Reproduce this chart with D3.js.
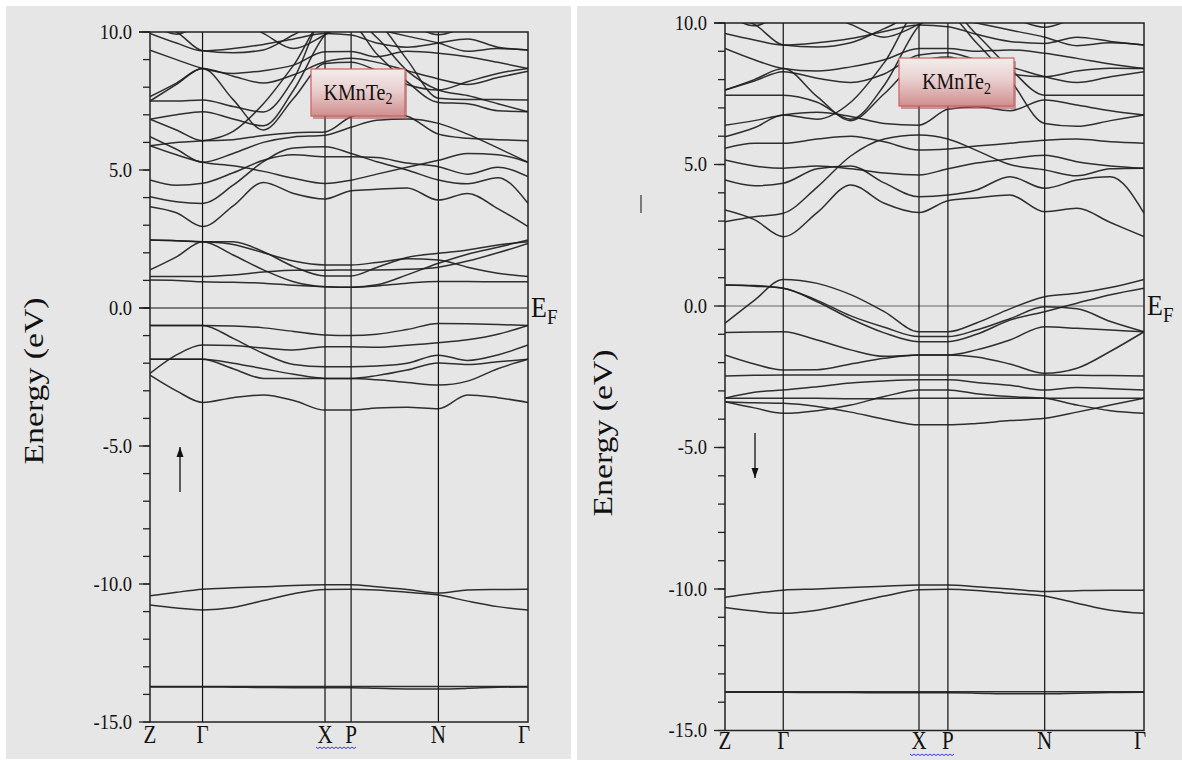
<!DOCTYPE html>
<html>
<head>
<meta charset="utf-8">
<script src="https://cdn.jsdelivr.net/npm/d3@7"></script>
<style>
  body { margin: 0; background: #fff; }
  svg { display: block; }
  text { font-family: "Liberation Serif", "DejaVu Serif", "Times New Roman", serif; }
</style>
</head>
<body>
<svg id="chart" width="1182" height="760"></svg>
<script>
var serif = "'Liberation Serif', 'DejaVu Serif', 'Times New Roman', serif"

// k-path sample positions (fraction of path length) and symmetry points
var kPos = [0, 0.07, 0.139, 0.22, 0.30, 0.38, 0.463, 0.532, 0.60, 0.68, 0.763, 0.84, 0.92, 1.0]
var kPoints = [0, 0.139, 0.463, 0.532, 0.763, 1.0]
var kLabels = ["Z", "Γ", "X", "P", "N", "Γ"]
var majorTicks = [-15, -10, -5, 0, 5, 10]
var minorTicks = d3.range(-15, 11, 1)

// spin up (left) bands, energies in eV at kPos
var upCore = [
  [-10.43, -10.30, -10.19, -10.14, -10.10, -10.05, -10.03, -10.03, -10.10, -10.20, -10.33, -10.22, -10.20, -10.19],
  [-10.76, -10.87, -10.94, -10.85, -10.60, -10.35, -10.20, -10.19, -10.22, -10.30, -10.40, -10.62, -10.82, -10.94],
  [-13.71, -13.71, -13.71, -13.71, -13.71, -13.71, -13.71, -13.71, -13.71, -13.71, -13.71, -13.71, -13.71, -13.71],
  [-13.73, -13.73, -13.73, -13.74, -13.75, -13.76, -13.76, -13.76, -13.78, -13.80, -13.80, -13.78, -13.74, -13.73]
]
var upValence = [
  [-0.63, -0.63, -0.63, -0.65, -0.72, -0.85, -0.98, -1.00, -0.95, -0.78, -0.56, -0.57, -0.60, -0.63],
  [-2.37, -1.70, -1.34, -1.36, -1.45, -1.52, -1.40, -1.40, -1.42, -1.35, -1.26, -1.15, -0.95, -0.63],
  [-1.86, -1.86, -1.86, -2.00, -2.20, -2.40, -2.55, -2.55, -2.45, -2.25, -1.99, -2.05, -1.95, -1.86],
  [-0.63, -0.63, -0.63, -1.10, -1.65, -2.05, -2.13, -2.13, -2.10, -2.00, -1.71, -1.90, -1.70, -1.34],
  [-2.43, -3.00, -3.42, -3.25, -3.15, -3.35, -3.70, -3.70, -3.62, -3.60, -3.65, -3.15, -3.25, -3.42],
  [-1.86, -1.86, -1.86, -2.20, -2.55, -2.55, -2.55, -2.55, -2.60, -2.70, -2.79, -2.65, -2.20, -1.86]
]
var upLowCond = [
  [2.46, 2.44, 2.40, 2.40, 2.04, 1.50, 1.16, 1.16, 1.47, 1.83, 1.98, 2.10, 2.28, 2.40],
  [1.38, 1.85, 2.40, 1.92, 1.38, 0.95, 0.77, 0.75, 0.84, 1.20, 1.62, 1.95, 2.20, 2.46],
  [2.46, 2.44, 2.40, 2.30, 2.00, 1.70, 1.56, 1.56, 1.65, 1.78, 1.74, 1.48, 1.26, 1.14],
  [1.14, 1.14, 1.14, 1.20, 1.30, 1.37, 1.37, 1.38, 1.38, 1.40, 1.48, 1.70, 2.00, 2.34],
  [1.01, 1.00, 0.95, 0.93, 0.90, 0.82, 0.77, 0.75, 0.80, 0.90, 0.96, 0.96, 0.95, 0.95]
]
var upCond = [
  [3.67, 3.45, 2.95, 3.70, 4.55, 4.15, 3.95, 4.25, 4.30, 4.35, 3.91, 4.15, 3.60, 2.95],
  [4.03, 3.85, 3.79, 4.45, 5.30, 5.80, 5.84, 5.60, 5.30, 5.00, 4.64, 4.50, 4.72, 3.79],
  [4.64, 4.45, 4.52, 4.90, 5.35, 5.55, 5.48, 5.48, 5.45, 5.25, 5.12, 4.85, 5.10, 4.76],
  [6.21, 5.75, 5.28, 5.60, 6.00, 6.20, 6.26, 6.55, 6.80, 6.85, 6.69, 6.30, 5.80, 5.28],
  [5.88, 5.55, 5.28, 5.15, 4.95, 4.70, 4.51, 4.63, 4.85, 5.10, 5.35, 5.60, 5.55, 5.28],
  [6.84, 6.45, 6.06, 6.10, 6.25, 6.35, 6.38, 6.93, 7.10, 6.95, 6.30, 6.15, 6.10, 6.06],
  [5.88, 6.00, 6.06, 6.40, 7.40, 8.80, 10.4, 10.3, 9.20, 8.20, 7.45, 7.40, 7.15, 7.11],
  [6.84, 7.00, 7.11, 6.85, 6.60, 7.90, 9.90, 10.5, 9.80, 8.60, 7.90, 7.70, 7.40, 7.11],
  [7.50, 7.50, 7.54, 7.30, 7.10, 8.30, 10.6, 10.8, 10.4, 9.00, 7.60, 7.55, 7.55, 7.54],
  [7.66, 8.15, 8.68, 7.55, 6.45, 7.60, 8.86, 8.90, 8.60, 8.10, 7.90, 8.20, 8.50, 8.68],
  [7.50, 8.10, 8.68, 8.40, 8.15, 8.45, 8.92, 9.05, 8.90, 8.60, 8.30, 8.10, 8.35, 8.58],
  [9.34, 9.00, 8.68, 8.50, 8.60, 8.80, 9.28, 9.29, 9.10, 9.30, 9.23, 9.10, 8.90, 8.68],
  [9.95, 9.60, 9.32, 9.40, 9.55, 9.75, 9.95, 9.89, 9.60, 9.45, 9.60, 9.75, 9.45, 9.35],
  [10.3, 10.0, 9.32, 9.25, 9.35, 9.90, 10.4, 10.3, 10.1, 9.85, 9.60, 9.30, 9.40, 9.35],
  [10.4, 9.92, 10.3, 10.5, 9.95, 9.40, 9.90, 10.4, 10.6, 10.3, 9.90, 10.2, 10.5, 10.6]
]

// spin down (right) bands
var dnCore = [
  [-10.29, -10.15, -10.04, -10.00, -9.95, -9.90, -9.86, -9.86, -9.92, -10.00, -10.09, -10.06, -10.04, -10.04],
  [-10.65, -10.78, -10.86, -10.75, -10.50, -10.25, -10.03, -10.01, -10.05, -10.15, -10.25, -10.50, -10.75, -10.86],
  [-13.63, -13.63, -13.63, -13.63, -13.63, -13.63, -13.63, -13.63, -13.63, -13.63, -13.63, -13.63, -13.63, -13.63],
  [-13.65, -13.65, -13.65, -13.66, -13.66, -13.67, -13.67, -13.67, -13.68, -13.70, -13.70, -13.68, -13.66, -13.65]
]
var dnValence = [
  [0.74, 0.72, 0.63, 0.20, -0.35, -0.75, -1.08, -1.08, -0.85, -0.45, -0.03, -0.10, -0.55, -0.91],
  [-0.61, 0.20, 0.94, 0.80, 0.40, -0.20, -0.91, -0.91, -0.60, -0.10, 0.33, 0.45, 0.65, 0.94],
  [0.74, 0.70, 0.63, 0.15, -0.45, -0.95, -1.26, -1.26, -1.00, -0.50, -0.20, 0.10, 0.40, 0.63],
  [-0.94, -0.92, -0.91, -1.20, -1.55, -1.78, -1.73, -1.73, -1.55, -1.20, -0.73, -0.79, -0.85, -0.91],
  [-1.73, -2.05, -2.26, -2.25, -2.05, -1.85, -1.73, -1.73, -1.80, -2.05, -2.38, -2.20, -1.60, -0.91],
  [-2.47, -2.45, -2.44, -2.44, -2.44, -2.44, -2.44, -2.44, -2.44, -2.44, -2.44, -2.45, -2.46, -2.47],
  [-3.26, -3.05, -2.97, -2.85, -2.72, -2.65, -2.61, -2.61, -2.70, -2.80, -2.97, -2.88, -2.92, -2.97],
  [-3.26, -3.26, -3.26, -3.26, -3.28, -3.28, -3.26, -3.26, -3.26, -3.26, -3.26, -3.26, -3.26, -3.26],
  [-3.38, -3.60, -3.79, -3.70, -3.50, -3.20, -2.97, -2.97, -3.10, -3.20, -3.26, -3.50, -3.70, -3.79],
  [-3.38, -3.42, -3.44, -3.55, -3.75, -4.00, -4.20, -4.20, -4.15, -4.05, -3.97, -3.75, -3.50, -3.26]
]
var dnCond = [
  [3.39, 3.05, 2.45, 3.30, 4.28, 3.63, 3.30, 3.72, 3.82, 3.92, 3.33, 3.45, 2.95, 2.45],
  [2.98, 3.15, 3.28, 4.20, 5.30, 5.90, 6.04, 5.90, 5.50, 5.00, 4.81, 4.60, 4.85, 4.87],
  [4.45, 4.25, 4.34, 4.85, 4.95, 4.35, 3.86, 3.92, 4.10, 4.57, 4.16, 4.45, 4.57, 3.28],
  [5.16, 4.95, 4.87, 4.95, 4.85, 4.70, 4.63, 4.85, 5.05, 5.20, 5.33, 5.10, 4.95, 4.87],
  [5.57, 5.75, 5.75, 5.90, 6.00, 5.80, 5.51, 5.55, 5.65, 5.75, 5.86, 5.90, 5.80, 5.75],
  [5.98, 6.30, 6.75, 6.60, 7.20, 8.60, 10.4, 10.3, 9.30, 8.00, 6.45, 6.35, 6.55, 6.75],
  [6.39, 6.55, 6.75, 6.85, 6.70, 6.45, 6.39, 6.95, 7.04, 6.90, 7.28, 7.10, 6.90, 6.75],
  [7.45, 7.45, 7.45, 7.20, 6.60, 7.80, 9.90, 10.5, 9.60, 8.40, 7.45, 7.45, 7.45, 7.45],
  [7.63, 8.00, 8.39, 7.40, 6.55, 7.50, 8.63, 8.80, 8.50, 8.20, 8.10, 8.30, 8.40, 8.39],
  [7.63, 7.95, 8.28, 8.05, 7.90, 8.20, 8.87, 8.95, 8.70, 8.45, 8.10, 7.90, 8.10, 8.28],
  [9.10, 8.70, 8.39, 8.30, 8.45, 8.70, 9.10, 9.10, 9.00, 9.05, 8.93, 8.75, 8.55, 8.39],
  [9.63, 9.40, 9.22, 9.30, 9.45, 9.70, 9.93, 9.87, 9.60, 9.35, 9.28, 9.50, 9.35, 9.22],
  [10.2, 9.95, 9.22, 9.15, 9.30, 9.80, 10.3, 10.2, 10.0, 9.75, 9.50, 9.20, 9.30, 9.22],
  [10.4, 9.90, 10.3, 10.4, 9.95, 9.50, 9.95, 10.4, 10.5, 10.2, 9.85, 10.2, 10.5, 10.6]
]

var svg = d3.select("#chart")

// gradient for the compound label box
var defs = svg.append("defs")
var grad = defs.append("linearGradient").attr("id", "boxgrad")
  .attr("x1", 0).attr("y1", 0).attr("x2", 0).attr("y2", 1)
grad.append("stop").attr("offset", "0%").attr("stop-color", "#f4ecec")
grad.append("stop").attr("offset", "45%").attr("stop-color", "#e9cfcf")
grad.append("stop").attr("offset", "100%").attr("stop-color", "#d08e8e")

// text that is a bit taller than wide, like the source picture
function tallText(g, x, y, str, size, anchor) {
  return g.append("text")
    .attr("transform", "translate(" + x + "," + y + ") scale(1,1.16)")
    .attr("text-anchor", anchor || "start")
    .attr("font-family", serif)
    .style("font-size", size + "px")
    .text(str)
}

function drawPanel(p) {
  var g = svg.append("g")

  // panel background
  g.append("rect")
    .attr("x", p.bg[0]).attr("y", p.bg[1])
    .attr("width", p.bg[2]).attr("height", p.bg[3])
    .attr("fill", "#e6e6e6")

  var x = d3.scaleLinear().domain([0, 1]).range([p.x0, p.x1])
  var y = d3.scaleLinear().domain([-15, 10]).range([p.yBot, p.yTop])

  var clipId = "clip" + p.id
  defs.append("clipPath").attr("id", clipId)
    .append("rect")
    .attr("x", p.x0).attr("y", p.yTop)
    .attr("width", p.x1 - p.x0).attr("height", p.yBot - p.yTop)

  // minor + major ticks on the left
  g.selectAll(".minor")
    .data(minorTicks)
    .enter()
    .append("line")
    .attr("x1", p.x0 - 7).attr("x2", p.x0)
    .attr("y1", d => y(d)).attr("y2", d => y(d))
    .attr("stroke", "#222").attr("stroke-width", 1.3)

  g.selectAll(".major")
    .data(majorTicks)
    .enter()
    .append("line")
    .attr("x1", p.x0 - 11).attr("x2", p.x0)
    .attr("y1", d => y(d)).attr("y2", d => y(d))
    .attr("stroke", "#222").attr("stroke-width", 1.3)

  majorTicks.forEach(function(v) {
    tallText(g, p.x0 - 18, y(v) + 6.5, v.toFixed(1), 18.5, "end").attr("fill", "#111")
  })

  // Fermi level
  g.append("line")
    .attr("x1", p.x0 - 11).attr("x2", p.x1)
    .attr("y1", y(0)).attr("y2", y(0))
    .attr("stroke", p.fermiColor).attr("stroke-width", 1.1)

  // symmetry lines
  g.selectAll(".sym")
    .data(kPoints.slice(1, -1))
    .enter()
    .append("line")
    .attr("x1", d => x(d)).attr("x2", d => x(d))
    .attr("y1", p.yTop).attr("y2", p.yBot)
    .attr("stroke", "#111").attr("stroke-width", 1.2)

  // bands
  var line = d3.line()
    .x((d, i) => x(kPos[i]))
    .y(d => y(d))
    .curve(d3.curveMonotoneX)

  g.append("g")
    .attr("clip-path", "url(#" + clipId + ")")
    .selectAll("path")
    .data(p.bands)
    .enter()
    .append("path")
    .attr("d", line)
    .attr("fill", "none")
    .attr("stroke", "#1e1e1e")
    .attr("stroke-width", 1.5)
    .attr("stroke-opacity", 0.92)

  // frame
  g.append("rect")
    .attr("x", p.x0).attr("y", p.yTop)
    .attr("width", p.x1 - p.x0).attr("height", p.yBot - p.yTop)
    .attr("fill", "none").attr("stroke", "#222").attr("stroke-width", 1.5)
  g.append("line")
    .attr("x1", p.x0 - 11).attr("x2", p.x0)
    .attr("y1", p.yTop).attr("y2", p.yTop)
    .attr("stroke", "#222").attr("stroke-width", 1.5)

  // k labels
  kPoints.forEach(function(k, i) {
    tallText(g, x(k) + (i == 5 ? -4 : 0), p.labelY, kLabels[i], 21, "middle").attr("fill", "#111")
  })

  // spell-check squiggle under "X P"
  var sq = []
  for (var sx = p.squig[0]; sx <= p.squig[1]; sx += 2) {
    sq.push([sx, p.squig[2] + ((sx - p.squig[0]) % 4 == 0 ? 0 : 1.6)])
  }
  g.append("path")
    .attr("d", d3.line()(sq))
    .attr("fill", "none").attr("stroke", "#3a3aff").attr("stroke-width", 1)

  // E_F label
  var ef = g.append("text")
    .attr("transform", "translate(" + (p.x1 + 3) + "," + (y(0) + 9) + ") scale(1,1.15)")
    .attr("font-family", serif)
    .style("font-size", "26px").attr("fill", "#111")
  ef.append("tspan").text("E")
  ef.append("tspan").attr("dy", 6).style("font-size", "19px").text("F")

  // axis title
  g.append("text")
    .attr("transform", "translate(" + p.titleX + "," + p.titleY + ") rotate(-90) scale(1.25,1)")
    .attr("text-anchor", "middle")
    .attr("font-family", serif)
    .style("font-size", "27px").attr("fill", "#111")
    .text("Energy (eV)")

  // compound box
  var b = p.box
  g.append("rect")
    .attr("x", b[0] + 2).attr("y", b[1] + 3)
    .attr("width", b[2]).attr("height", b[3])
    .attr("fill", "#9a5a5a").attr("opacity", 0.55)
  g.append("rect")
    .attr("x", b[0]).attr("y", b[1])
    .attr("width", b[2]).attr("height", b[3])
    .attr("fill", "url(#boxgrad)")
    .attr("stroke", "#cf5f5f").attr("stroke-width", 1.2)
  var t = g.append("text")
    .attr("transform", "translate(" + (b[0] + b[2] / 2) + "," + (b[1] + b[3] / 2 + 7) + ") scale(1,1.18)")
    .attr("text-anchor", "middle")
    .attr("font-family", serif)
    .style("font-size", "20px").attr("fill", "#111")
  t.append("tspan").text("KMnTe")
  t.append("tspan").attr("dy", 4).style("font-size", "14px").text("2")

  // spin arrow
  var a = p.arrow
  g.append("line")
    .attr("x1", a[0]).attr("x2", a[0])
    .attr("y1", a[1]).attr("y2", a[2])
    .attr("stroke", "#111").attr("stroke-width", 1.3)
  var dir = a[2] < a[1] ? -1 : 1
  g.append("path")
    .attr("d", "M" + (a[0] - 3.5) + "," + (a[2] - dir * 10) + "L" + a[0] + "," + a[2] + "L" + (a[0] + 3.5) + "," + (a[2] - dir * 10) + "Z")
    .attr("fill", "#111")

  return g
}

drawPanel({
  id: "up", bg: [6, 6, 565, 753],
  x0: 150, x1: 528, yTop: 32, yBot: 722,
  fermiColor: "#111",
  bands: upCore.concat(upValence, upLowCond, upCond),
  labelY: 743, squig: [316, 357, 747],
  titleX: 43, titleY: 381,
  box: [311, 69, 94, 47],
  arrow: [180, 492, 447]
})

var right = drawPanel({
  id: "dn", bg: [577, 6, 605, 754],
  x0: 725, x1: 1144, yTop: 23, yBot: 730.5,
  fermiColor: "#666",
  bands: dnCore.concat(dnValence, dnCond),
  labelY: 749, squig: [910, 955, 754],
  titleX: 612, titleY: 433,
  box: [899, 58, 115, 48],
  arrow: [755, 433, 478]
})

// small stray mark left of the right panel axis
right.append("line")
  .attr("x1", 641).attr("x2", 641)
  .attr("y1", 195).attr("y2", 213)
  .attr("stroke", "#333").attr("stroke-width", 1.2)
</script>
</body>
</html>
